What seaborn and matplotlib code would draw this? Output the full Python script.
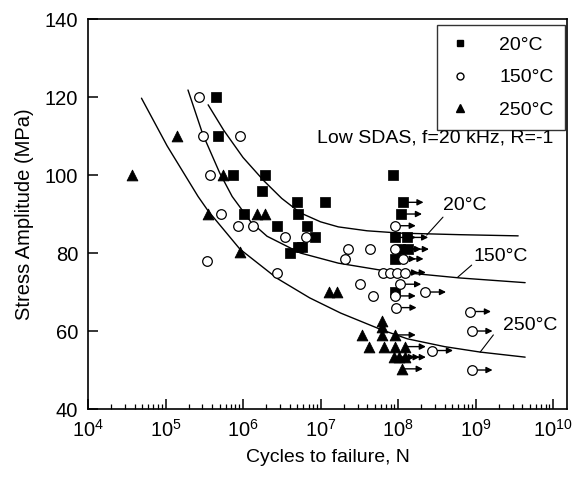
import numpy as np
import pandas as pd
import matplotlib.pyplot as plt
from matplotlib.lines import Line2D
import seaborn as sns

# values: log10(cycles) and stress amplitude (MPa)
sq_logn = [5.65, 5.68, 5.87, 6.28, 6.25, 6.70, 7.06, 6.71, 6.01, 6.44, 6.83, 6.93,
           6.71, 6.76, 6.61, 7.94, 7.96]
sq_s = [120, 110, 100, 100, 96, 93, 93, 90, 90, 87, 87, 84, 81.5, 81.5, 80, 100, 70]
sq_run_logn = [8.06, 8.04, 7.96, 8.12, 8.03, 8.13, 7.96]
sq_run_s = [93, 90, 84, 84, 81, 81, 78.5]

ci_logn = [5.43, 5.48, 5.96, 5.57, 5.72, 5.94, 6.13, 6.54, 6.81, 5.54, 6.44, 7.35,
           7.64, 7.32, 7.51, 7.68]
ci_s = [120, 110, 110, 100, 90, 87, 87, 84, 84, 78, 75, 81, 81, 78.5, 72, 69]
ci_run_logn = [7.96, 7.96, 8.06, 7.81, 7.90, 7.99, 8.09, 8.03, 7.96, 8.35, 7.97,
               8.93, 8.95, 8.95, 8.44]
ci_run_s = [87, 81, 78.5, 75, 75, 75, 75, 72, 69, 70, 66, 65, 60, 50, 55]

tr_logn = [4.57, 5.15, 5.74, 5.55, 6.18, 6.28, 5.96, 7.11, 7.21, 7.79, 7.79, 7.54,
           7.79, 7.63, 7.82, 7.96]
tr_s = [100, 110, 100, 90, 90, 90, 80.3, 70, 70, 62.6, 61, 59, 59, 56, 56, 56]
tr_run_logn = [7.96, 8.09, 7.95, 8.01, 8.09, 8.05]
tr_run_s = [59, 56, 53.3, 53.3, 53.3, 50.3]

# fitted S-N curves
c20_logn = [5.55, 5.75, 6.0, 6.27, 6.5, 6.74, 7.0, 7.23, 7.6, 8.03, 8.8, 9.55]
c20_s = [118, 111.5, 104.5, 98.5, 94, 90.3, 88, 86.7, 85.7, 85.1, 84.7, 84.4]
c150_logn = [5.29, 5.48, 5.7, 5.86, 6.1, 6.31, 6.74, 7.23, 7.81, 8.8, 9.64]
c150_s = [121.8, 110.5, 100.5, 94.5, 88, 84.3, 80, 77.4, 75.5, 73.6, 72.4]
c250_logn = [4.69, 5.02, 5.42, 5.55, 5.96, 6.44, 6.86, 7.26, 7.79, 8.12, 8.6, 9.06, 9.64]
c250_s = [119.7, 107.5, 94.5, 90.8, 81, 73.5, 68.5, 64.6, 60.3, 58, 56, 54.6, 53.3]

temps = ['20°C', '150°C', '250°C']


def frame(logn, s, temp, runout):
    return pd.DataFrame({'N': 10 ** np.array(logn), 'S': s, 'T': temp, 'runout': runout})


df = pd.concat([
    frame(sq_logn, sq_s, temps[0], False), frame(sq_run_logn, sq_run_s, temps[0], True),
    frame(ci_logn, ci_s, temps[1], False), frame(ci_run_logn, ci_run_s, temps[1], True),
    frame(tr_logn, tr_s, temps[2], False), frame(tr_run_logn, tr_run_s, temps[2], True),
], ignore_index=True)

sns.set_theme(style="ticks")
plt.rcParams['font.family'] = ['Liberation Sans', 'DejaVu Sans']
plt.rcParams['mathtext.fontset'] = 'custom'
plt.rcParams['mathtext.rm'] = 'Liberation Sans'
plt.rcParams['text.color'] = 'black'
plt.rcParams['axes.labelcolor'] = 'black'
plt.rcParams['xtick.color'] = 'black'
plt.rcParams['ytick.color'] = 'black'

fig = plt.figure(figsize=(5.74, 4.79), dpi=100)
ax = fig.add_axes([0.1533, 0.1461, 0.8345, 0.8142])
ax.set_xscale('log')

# run-out arrows
for _, r in df[df['runout']].iterrows():
    ax.annotate('', xy=(r['N'] * 1.86, r['S']), xytext=(r['N'], r['S']),
                arrowprops=dict(arrowstyle='-|>', color='black', lw=1.0,
                                mutation_scale=9, shrinkA=0, shrinkB=0), zorder=2)

styles = {
    '20°C': dict(marker='s', s=42, color='black', edgecolor='black'),
    '150°C': dict(marker='o', s=48, facecolor='white', edgecolor='black', linewidth=0.9),
    '250°C': dict(marker='^', s=60, color='black', edgecolor='black'),
}
for t in temps:
    sub = df[df['T'] == t]
    sns.scatterplot(data=sub, x='N', y='S', ax=ax, zorder=3, legend=False, **styles[t])

for lx, ly in [(c20_logn, c20_s), (c150_logn, c150_s), (c250_logn, c250_s)]:
    sns.lineplot(x=10 ** np.array(lx), y=ly, ax=ax, color='black', lw=1.0,
                 estimator=None, sort=False, zorder=2)

# curve labels with leader lines
ax.text(10 ** 8.86, 92.1, '20°C', ha='center', va='center', fontsize=14)
ax.plot([10 ** 8.58, 10 ** 8.37], [89.2, 84.6], color='black', lw=0.8)
ax.text(10 ** 9.32, 79.2, '150°C', ha='center', va='center', fontsize=14)
ax.plot([10 ** 8.95, 10 ** 8.77], [76.9, 73.8], color='black', lw=0.8)
ax.text(10 ** 9.70, 61.5, '250°C', ha='center', va='center', fontsize=14)
ax.plot([10 ** 9.23, 10 ** 9.06], [59.0, 54.6], color='black', lw=0.8)
ax.text(10 ** 6.95, 109.5, 'Low SDAS, f=20 kHz, R=-1', ha='left', va='center', fontsize=14)

ax.set_xlim(1e4, 10 ** 10.18)
ax.set_ylim(40, 140)
ax.set_yticks([40, 60, 80, 100, 120, 140])
ax.set_xticks([10 ** k for k in range(4, 11)])
ax.tick_params(axis='both', which='major', direction='in', length=7, width=1.1,
               labelsize=14.5, pad=7, top=False, right=False)
ax.tick_params(axis='x', which='minor', direction='in', length=3.5, width=0.9, top=False)
for sp in ax.spines.values():
    sp.set_linewidth(1.2)
    sp.set_color('black')
ax.set_xlabel('Cycles to failure, N', fontsize=14, labelpad=6)
ax.set_ylabel('Stress Amplitude (MPa)', fontsize=14.5, labelpad=8)

handles = [
    Line2D([], [], ls='', marker='s', color='black', markersize=5),
    Line2D([], [], ls='', marker='o', markerfacecolor='white', markeredgecolor='black', markersize=5),
    Line2D([], [], ls='', marker='^', color='black', markersize=6),
]
leg = ax.legend(handles, temps, loc='upper right', bbox_to_anchor=(0.996, 0.985),
                borderaxespad=0, frameon=True, fancybox=False, edgecolor='black',
                fontsize=14, labelspacing=0.75, handletextpad=1.4, borderpad=0.6,
                handlelength=1.2)
leg.get_frame().set_linewidth(1.0)

fig.savefig('out.png', dpi=100)
